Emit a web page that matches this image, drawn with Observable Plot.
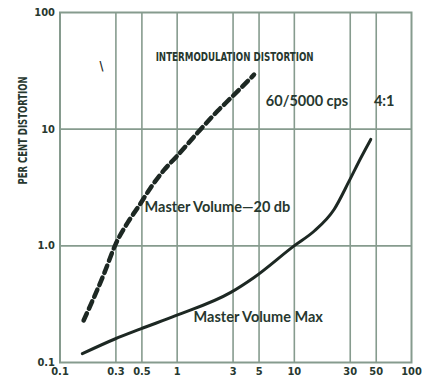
<!DOCTYPE html>
<html><head><meta charset="utf-8">
<script src="https://cdn.jsdelivr.net/npm/d3@7"></script>
<script src="https://cdn.jsdelivr.net/npm/@observablehq/plot@0.6"></script>
<style>body{margin:0;background:#fff}</style>
</head><body><div id="chart"></div>
<script>
const xTicks = [0.1, 0.3, 0.5, 1, 3, 5, 10, 30, 50, 100];
const xTickLabels = ["0.1", "0.3", "0.5", "1", "3", "5", "10", "30", "50", "100"];
const yTicks = [0.1, 1, 10, 100];
const yTickLabels = ["0.1", "1.0", "10", "100"];
const xGrid = [0.3, 0.5, 1, 3, 5, 10, 30, 50];
const yGrid = [1, 10];

const minus20X = [0.159, 0.237, 0.298, 0.387, 0.472, 0.594, 0.771, 1.0, 1.49, 2.21, 2.87, 4.53];
const minus20Y = [0.229, 0.573, 1.03, 1.64, 2.2, 3.15, 4.45, 5.9, 9.3, 14.3, 18.5, 29.3];
const maxX = [0.155, 0.294, 0.488, 0.97, 2.87, 4.53, 9.95, 14.8, 21.9, 29.4, 37, 44.9];
const maxY = [0.119, 0.159, 0.194, 0.252, 0.399, 0.536, 1.0, 1.34, 2.06, 3.6, 5.69, 8.17];

const titleText = ["INTERMODULATION DISTORTION"];
const noteText = ["60/5000 cps", "4:1"];
const seriesLabels = ["Master Volume\u201420 db", "Master Volume Max"];
const yTitle = "PER CENT DISTORTION";

const minus20 = minus20X.map((x, i) => ({x, y: minus20Y[i]}));
const maxVol = maxX.map((x, i) => ({x, y: maxY[i]}));

const ink = "#1d2823";
const textInk = "#27382f";
const gridC = "#869b8e";
const narrow = "'DejaVu Sans Condensed', 'Liberation Sans Narrow', sans-serif";
const round = "Lato, 'Open Sans', sans-serif";

const chart = Plot.plot({
  width: 426,
  height: 380,
  marginLeft: 59.5,
  marginRight: 15,
  marginTop: 12,
  marginBottom: 18,
  style: {background: "#fff", fontFamily: narrow},
  x: {type: "log", domain: [0.1, 100], axis: null},
  y: {type: "log", domain: [0.1, 100], axis: null},
  marks: [
    Plot.ruleX(xGrid, {stroke: gridC, strokeWidth: 1.6}),
    Plot.ruleY(yGrid, {stroke: gridC, strokeWidth: 1.6}),
    Plot.frame({stroke: gridC, strokeWidth: 2}),
    Plot.text(xTicks, {x: d => d, frameAnchor: "bottom", lineAnchor: "top", dy: 5, text: (d, i) => xTickLabels[i],
      fontSize: 11, fontWeight: "bold", fill: textInk, fontFamily: narrow}),
    Plot.text(yTicks, {y: d => d, frameAnchor: "left", textAnchor: "end", dx: -5, text: (d, i) => yTickLabels[i],
      fontSize: 11, fontWeight: "bold", fill: textInk, fontFamily: narrow}),
    Plot.text([yTitle], {frameAnchor: "left", dx: -37, dy: -3, rotate: -90, fontSize: 12, fontWeight: "bold", fill: textInk, fontFamily: narrow}),
    Plot.line(minus20, {x: "x", y: "y", curve: "monotone-x", stroke: ink, strokeWidth: 4.5, strokeDasharray: "8,5"}),
    Plot.line(maxVol, {x: "x", y: "y", curve: "monotone-x", stroke: ink, strokeWidth: 3}),
    Plot.text(titleText, {x: [0.655], y: [41.2], textAnchor: "start", fontSize: 12.5, fontWeight: "bold", fill: textInk, fontFamily: narrow}),
    Plot.text(noteText, {x: [5.71, 47.8], y: [17.3, 17.3], textAnchor: "start", fontSize: 14.5, fontWeight: "bold", fill: textInk, fontFamily: round}),
    Plot.text(seriesLabels, {x: [0.527, 1.38], y: [2.13, 0.245], textAnchor: "start", fontSize: 14.5, fontWeight: "bold", fill: textInk, fontFamily: round}),
    Plot.text(["\\"], {x: [0.226], y: [34.5], fontSize: 12, fontWeight: "bold", fill: ink})
  ]
});
const fit = {"INTERMODULATION DISTORTION": 158, "PER CENT DISTORTION": 108};
chart.querySelectorAll("text").forEach(t => {
  const w = fit[t.textContent];
  if (w) { t.setAttribute("textLength", w); t.setAttribute("lengthAdjust", "spacingAndGlyphs"); }
});
document.getElementById("chart").append(chart);
</script>
</body></html>
